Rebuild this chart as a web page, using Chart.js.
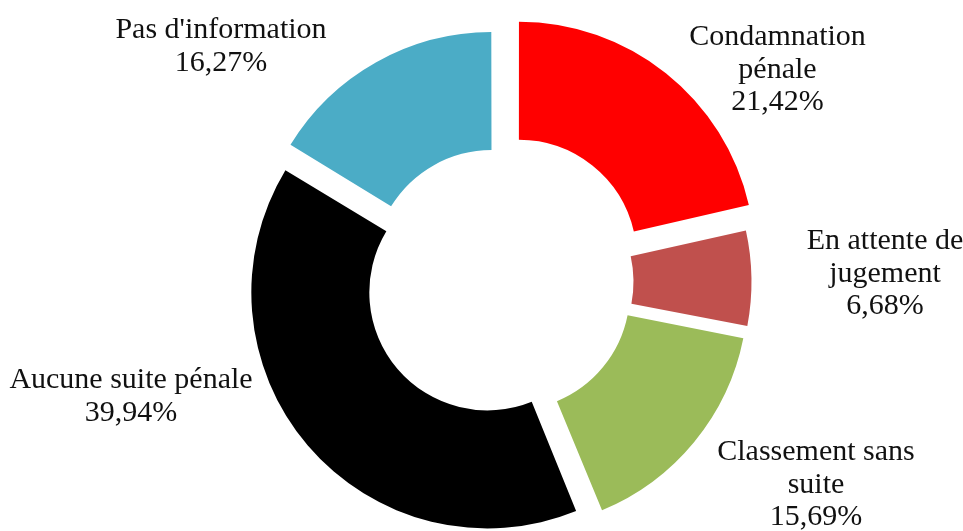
<!DOCTYPE html>
<html lang="fr">
<head>
    <meta charset="UTF-8">
    <title>Suites pénales</title>
    <script src="https://cdn.jsdelivr.net/npm/chart.js"></script>
    <style>
        html, body { margin: 0; padding: 0; background: #fff; }
        #wrap { width: 963px; height: 531px; position: relative; }
    </style>
</head>
<body>
    <div id="wrap"><canvas id="chart"></canvas></div>

    <script>
        // données
        const categories = ["Condamnation pénale", "En attente de jugement", "Classement sans suite", "Aucune suite pénale", "Pas d'information"];
        const labelLines = [["Condamnation", "pénale"], ["En attente de", "jugement"], ["Classement sans", "suite"], ["Aucune suite pénale"], ["Pas d'information"]];
        const values = [21.42, 6.68, 15.69, 39.94, 16.27];
        const colors = ["#FF0000", "#C0504D", "#9BBB59", "#000000", "#4BACC6"];

        // décalage de chaque part (px) et position des étiquettes par rapport au centre
        const explode = [31, 16, 16, 16, 16];
        const labelOffsets = [[278, -237], [385.5, -33], [316.5, 178], [-368.5, 106], [-278.5, -244]];

        function pct(v) {
            return v.toFixed(2).replace(".", ",") + "%";
        }

        // Chart.js agrandit un peu les parts décalées : on annule cet effet
        const radiusFix = {
            id: "radiusFix",
            afterDatasetsUpdate(chart) {
                chart.getDatasetMeta(0).data.forEach((arc, i) => {
                    const off = explode[i];
                    const c = arc.endAngle - arc.startAngle;
                    const r = off * (1 - Math.sin(Math.min(Math.PI, c)));
                    arc.outerRadius -= r;
                    arc.innerRadius -= r;
                });
            }
        };

        // étiquettes texte
        const labelsPlugin = {
            id: "sliceLabels",
            afterDraw(chart) {
                const ctx = chart.ctx;
                const area = chart.chartArea;
                const cx = (area.left + area.right) / 2;
                const cy = (area.top + area.bottom) / 2;
                ctx.save();
                ctx.font = "30px 'Liberation Serif'";
                ctx.fillStyle = "#111";
                ctx.textAlign = "center";
                ctx.textBaseline = "alphabetic";
                values.forEach((v, i) => {
                    const lines = labelLines[i].concat([pct(v)]);
                    const x = cx + labelOffsets[i][0];
                    let y = cy + labelOffsets[i][1];
                    lines.forEach(t => {
                        ctx.fillText(t, x, y);
                        y += 32.7;
                    });
                });
                ctx.restore();
            }
        };

        const ctx = document.getElementById("chart").getContext("2d");
        new Chart(ctx, {
            type: "doughnut",
            data: {
                labels: categories,
                datasets: [{
                    data: values,
                    backgroundColor: colors,
                    borderWidth: 0,
                    offset: explode.map(o => o * 4),
                    hoverOffset: 0
                }]
            },
            options: {
                responsive: true,
                maintainAspectRatio: false,
                animation: false,
                events: [],
                radius: 236,
                cutout: "50%",
                layout: { padding: { left: 36, right: 0, top: 33, bottom: 0 } },
                plugins: {
                    legend: { display: false },
                    tooltip: { enabled: false }
                }
            },
            plugins: [radiusFix, labelsPlugin]
        });
    </script>
</body>
</html>
